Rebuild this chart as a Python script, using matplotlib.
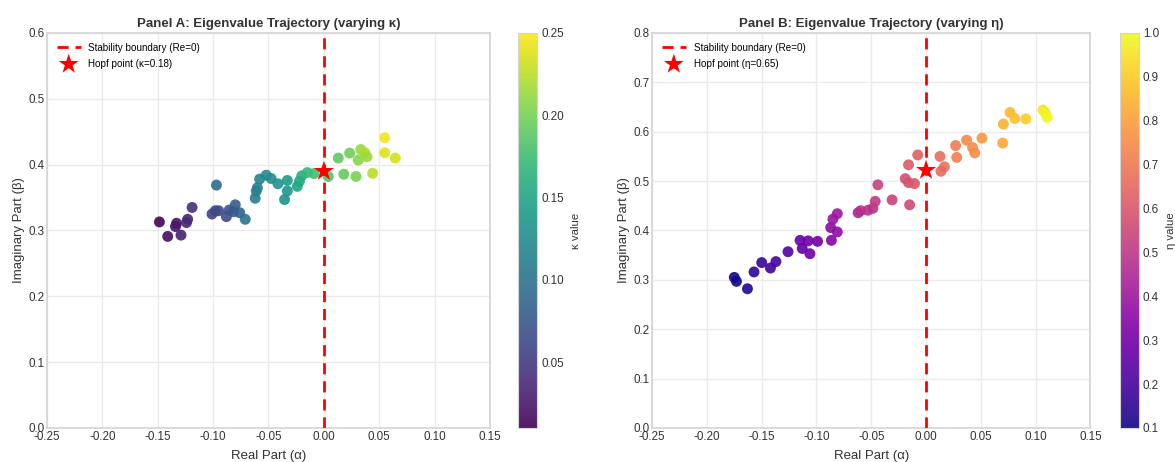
import matplotlib
matplotlib.use("Agg")
import matplotlib.pyplot as plt
import numpy as np

plt.rcParams["font.family"] = ["Liberation Sans", "DejaVu Sans"]

# Panel A: eigenvalues while kappa varies
kappa_re = [-0.1485, -0.141, -0.133, -0.134, -0.129, -0.123, -0.124, -0.119,
            -0.097, -0.101, -0.098, -0.095, -0.088, -0.0855, -0.080, -0.0815,
            -0.076, -0.071, -0.062, -0.061, -0.060, -0.058, -0.052, -0.0476,
            -0.0415, -0.033, -0.033, -0.0355, -0.024, -0.022, -0.020, -0.015,
            -0.009, 0.004, 0.013, 0.018, 0.0233, 0.029, 0.031, 0.0333,
            0.037, 0.039, 0.044, 0.055, 0.055, 0.0645]
kappa_im = [0.313, 0.291, 0.311, 0.306, 0.293, 0.317, 0.312, 0.335,
            0.369, 0.325, 0.330, 0.330, 0.321, 0.331, 0.339, 0.3285,
            0.327, 0.317, 0.349, 0.360, 0.365, 0.378, 0.384, 0.379,
            0.371, 0.376, 0.360, 0.347, 0.367, 0.375, 0.383, 0.388,
            0.3865, 0.382, 0.410, 0.3855, 0.4176, 0.382, 0.407, 0.423,
            0.418, 0.412, 0.387, 0.441, 0.418, 0.410]
kappa_val = [0.012, 0.018, 0.022, 0.025, 0.030, 0.035, 0.038, 0.042,
             0.095, 0.055, 0.060, 0.064, 0.068, 0.072, 0.080, 0.076,
             0.084, 0.100, 0.110, 0.113, 0.116, 0.120, 0.124, 0.128,
             0.132, 0.140, 0.136, 0.133, 0.150, 0.155, 0.160, 0.170,
             0.176, 0.185, 0.190, 0.193, 0.198, 0.202, 0.207, 0.212,
             0.220, 0.215, 0.225, 0.245, 0.238, 0.235]
hopf_a = (0.0, 0.39)

# Panel B: eigenvalues while eta varies
eta_re = [-0.175, -0.173, -0.163, -0.157, -0.150, -0.142, -0.137, -0.126,
          -0.115, -0.1076, -0.113, -0.106, -0.099, -0.0864, -0.087, -0.081,
          -0.085, -0.081, -0.062, -0.0597, -0.053, -0.0485, -0.0464, -0.044,
          -0.031, -0.015, -0.019, -0.016, -0.0106, -0.016, -0.0076, 0.0127,
          0.0167, 0.0136, 0.027, 0.028, 0.037, 0.0424, 0.0445, 0.051,
          0.070, 0.0706, 0.0767, 0.081, 0.091, 0.1067, 0.109, 0.1106]
eta_im = [0.305, 0.297, 0.282, 0.316, 0.335, 0.324, 0.337, 0.357,
          0.380, 0.379, 0.3635, 0.353, 0.378, 0.380, 0.406, 0.397,
          0.423, 0.434, 0.436, 0.440, 0.441, 0.445, 0.459, 0.4925,
          0.462, 0.452, 0.505, 0.497, 0.495, 0.533, 0.553, 0.550,
          0.529, 0.520, 0.572, 0.548, 0.583, 0.568, 0.557, 0.587,
          0.577, 0.6155, 0.639, 0.627, 0.626, 0.644, 0.638, 0.629]
eta_val = [0.10, 0.11, 0.13, 0.15, 0.17, 0.18, 0.20, 0.22,
           0.27, 0.29, 0.26, 0.28, 0.30, 0.34, 0.36, 0.37,
           0.39, 0.40, 0.45, 0.47, 0.48, 0.49, 0.51, 0.53,
           0.54, 0.56, 0.58, 0.59, 0.60, 0.61, 0.63, 0.67,
           0.68, 0.66, 0.71, 0.72, 0.74, 0.75, 0.76, 0.78,
           0.82, 0.84, 0.86, 0.88, 0.90, 0.96, 0.98, 1.00]
hopf_b = (0.0, 0.522)

x_ticks = [-0.25, -0.20, -0.15, -0.10, -0.05, 0.00, 0.05, 0.10, 0.15]

fig = plt.figure(figsize=(11.75, 4.62), dpi=100)
ax_a = fig.add_axes([0.040, 0.0736, 0.377, 0.855])
cax_a = fig.add_axes([0.441, 0.0736, 0.016, 0.855])
ax_b = fig.add_axes([0.555, 0.0736, 0.373, 0.855])
cax_b = fig.add_axes([0.953, 0.0736, 0.016, 0.855])


def draw_panel(ax, cax, re, im, val, cmap, vmin, vmax, hopf, sym, hopf_val,
               title, ymax, yticks, cticks, cfmt):
    sc = ax.scatter(re, im, c=val, cmap=cmap, vmin=vmin, vmax=vmax, s=62,
                    alpha=0.9, edgecolors="none", zorder=3)
    ax.axvline(0, color="red", linestyle="--", linewidth=2, dashes=(4, 2.5),
               label="Stability boundary (Re=0)", zorder=4)
    ax.scatter([hopf[0]], [hopf[1]], marker="*", s=230, color="red",
               edgecolors="none", zorder=5,
               label="Hopf point (%s=%s)" % (sym, hopf_val))
    ax.set_xlim(-0.25, 0.15)
    ax.set_ylim(0, ymax)
    ax.set_xticks(x_ticks)
    ax.set_xticklabels(["%.2f" % t for t in x_ticks])
    ax.set_yticks(yticks)
    ax.set_yticklabels(["%.1f" % t for t in yticks])
    ax.grid(True, color="#ebebeb", linewidth=1)
    ax.set_axisbelow(True)
    for s in ax.spines.values():
        s.set_color("#d4d4d4")
        s.set_linewidth(1.2)
    ax.tick_params(length=0, pad=2, labelsize=8.4, labelcolor="#333333")
    ax.set_xlabel("Real Part (α)", fontsize=9.5, color="#333333", labelpad=5)
    ax.set_ylabel("Imaginary Part (β)", fontsize=9.5, color="#333333", labelpad=2)
    ax.set_title(title, fontsize=9.5, fontweight="bold", color="#333333", pad=4)
    ax.legend(loc="upper left", frameon=False, fontsize=7.1, markerscale=1.0,
              borderaxespad=0.6, handlelength=2.4, labelspacing=0.6)

    cb = fig.colorbar(sc, cax=cax)
    cb.set_ticks(cticks)
    cb.set_ticklabels([cfmt % t for t in cticks])
    cb.outline.set_edgecolor("#d4d4d4")
    cb.ax.tick_params(length=0, pad=3, labelsize=8.4, labelcolor="#333333")
    cb.set_label("%s value" % sym, fontsize=8.2, color="#333333", labelpad=5)


draw_panel(ax_a, cax_a, kappa_re, kappa_im, kappa_val, "viridis", 0.01, 0.25,
           hopf_a, "κ", "0.18", "Panel A: Eigenvalue Trajectory (varying κ)",
           0.6, [0.0, 0.1, 0.2, 0.3, 0.4, 0.5, 0.6],
           [0.05, 0.10, 0.15, 0.20, 0.25], "%.2f")
draw_panel(ax_b, cax_b, eta_re, eta_im, eta_val, "plasma", 0.1, 1.0,
           hopf_b, "η", "0.65", "Panel B: Eigenvalue Trajectory (varying η)",
           0.8, [0.0, 0.1, 0.2, 0.3, 0.4, 0.5, 0.6, 0.7, 0.8],
           [0.1, 0.2, 0.3, 0.4, 0.5, 0.6, 0.7, 0.8, 0.9, 1.0], "%.1f")

fig.savefig("out.png", dpi=100)
